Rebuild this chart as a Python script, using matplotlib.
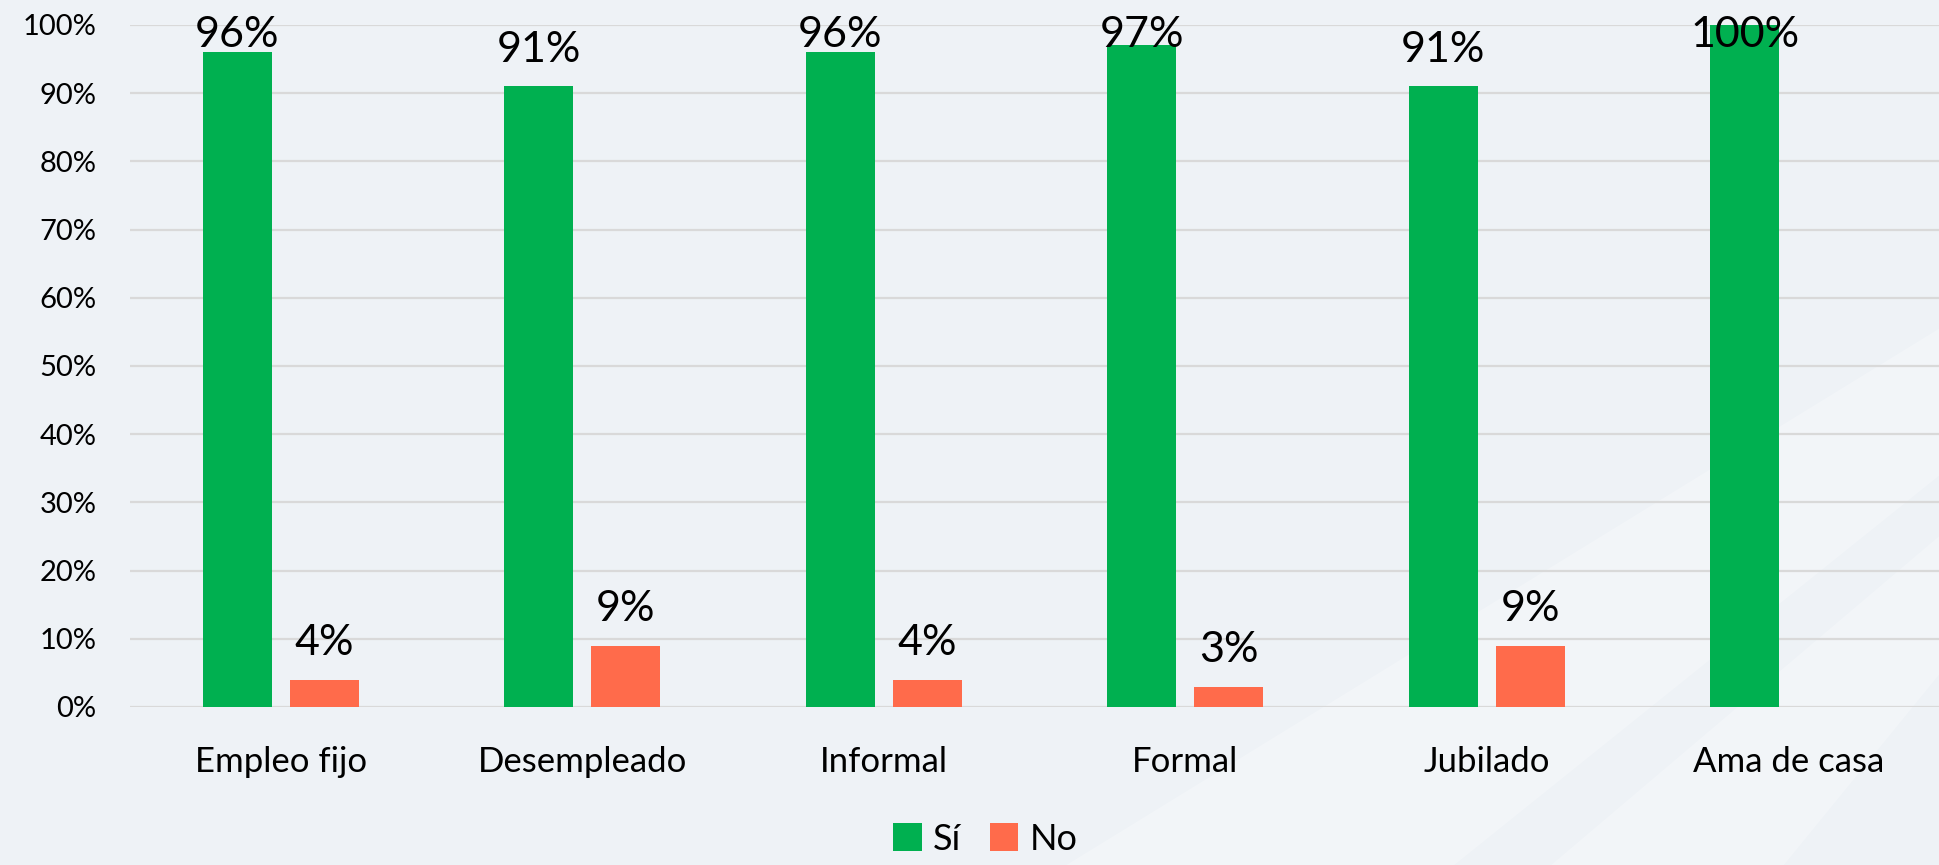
import numpy as np
import matplotlib
matplotlib.use("Agg")
from matplotlib import pyplot as plt
from matplotlib.patches import Polygon

categories = ["Empleo fijo", "Desempleado", "Informal", "Formal", "Jubilado", "Ama de casa"]
si_values = [96, 91, 96, 97, 91, 100]
no_values = [4, 9, 4, 3, 9, 0]
yticks = [0, 10, 20, 30, 40, 50, 60, 70, 80, 90, 100]

green = "#00B050"
red = "#FF6B4B"
bg = "#EEF2F6"

plt.rcParams['font.family'] = ['Lato', 'DejaVu Sans']

fig = plt.figure(figsize=(19.39, 8.65), dpi=100, facecolor=bg)

# faint diagonal streaks behind everything
bgax = fig.add_axes([0, 0, 1, 1], zorder=-10)
bgax.set_xlim(0, 1)
bgax.set_ylim(0, 1)
bgax.axis("off")
streaks = [
    [(0.55, 0.0), (0.75, 0.0), (1.0, 0.45), (1.0, 0.62)],
    [(0.80, 0.0), (0.92, 0.0), (1.0, 0.22), (1.0, 0.38)],
]
for pts in streaks:
    bgax.add_patch(Polygon(pts, closed=True, facecolor="white", alpha=0.25, edgecolor="none"))

ax = fig.add_axes([0.067, 0.1827, 0.933, 0.7884], zorder=1)
ax.set_facecolor("none")

x = np.arange(len(categories))
w = 0.229
off = 0.1445

b1 = ax.bar(x - off, si_values, w, color=green, label="Sí", zorder=3)
no_plot = [v if v > 0 else np.nan for v in no_values]
b2 = ax.bar(x + off, no_plot, w, color=red, label="No", zorder=3)

# value labels, kept inside the top of the chart
for xs, vals in [(x - off, si_values), (x + off, no_values)]:
    for xi, v in zip(xs, vals):
        if v == 0:
            continue
        ypos = min(v + 5.4, 98.5)
        ax.text(xi, ypos, f"{v}%", ha="center", va="center", fontsize=31,
                color="black", zorder=4, clip_on=False)

ax.set_xlim(-0.5, len(categories) - 0.5)
ax.set_ylim(0, 100)
ax.set_yticks(yticks)
ax.set_yticklabels([f"{t}%" for t in yticks], fontsize=21)
ax.set_xticks(x)
ax.set_xticklabels(categories, fontsize=25)
ax.tick_params(axis="both", length=0)
ax.tick_params(axis="x", pad=28)
ax.tick_params(axis="y", pad=24)
ax.grid(axis="y", color="#D9D9D9", linewidth=1.6, zorder=0)
for s in ax.spines.values():
    s.set_visible(False)

fig.legend(handles=[b1, b2], labels=["Sí", "No"], loc="center",
           bbox_to_anchor=(0.508, 0.03), ncol=2, frameon=False, fontsize=26,
           handlelength=0.8, handleheight=0.8, handletextpad=0.3, columnspacing=0.8,
           borderpad=0.1)

fig.savefig("out.png", dpi=100, facecolor=bg)
